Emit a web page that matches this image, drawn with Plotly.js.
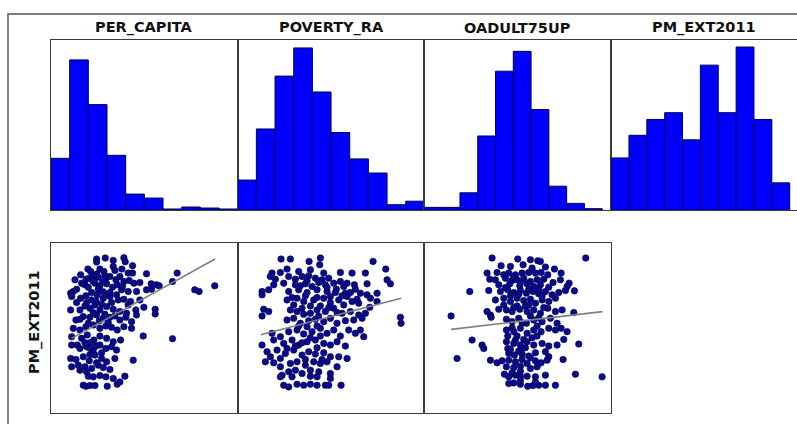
<!DOCTYPE html>
<html>
<head>
<meta charset="utf-8">
<script src="https://cdn.plot.ly/plotly-3.0.1.min.js"></script>
<style>html,body{margin:0;padding:0;background:#fff;}#chart{width:797px;height:424px;}</style>
</head>
<body>
<div id="chart"></div>
<script>
// ---------- DATA ----------
const variables = ["PER_CAPITA", "POVERTY_RA", "OADULT75UP", "PM_EXT2011"];

// Histogram bins (centres, width) and counts for each variable
const hist_per_capita_centers = [23.37, 27.71, 32.05, 36.39, 40.73, 45.07, 49.41, 53.75, 58.09, 62.43];
const hist_per_capita_counts  = [52, 151, 106, 55, 16, 12, 1, 3, 2, 1];
const hist_poverty_centers    = [11.3, 15.5, 19.7, 23.9, 28.1, 32.3, 36.5, 40.7, 44.9, 49.1];
const hist_poverty_counts     = [17, 46, 76, 92, 67, 44, 29, 21, 3, 5];
const hist_oadult_centers     = [11.45, 15.95, 20.45, 24.95, 29.45, 33.95, 38.45, 42.95, 47.45, 51.95];
const hist_oadult_counts      = [2, 2, 13, 56, 105, 120, 76, 18, 5, 1];
const hist_pm_centers         = [9.73, 13.59, 17.45, 21.31, 25.17, 29.03, 32.89, 36.75, 40.61, 44.47];
const hist_pm_counts          = [23, 33, 40, 43, 31, 64, 43, 72, 40, 12];
const hist_widths = [4.34, 4.2, 4.5, 3.86];

// Scatter: PER_CAPITA vs PM_EXT2011
const sc1_x = [29.0,31.6,34.0,37.2,37.6,29.0,39.8,26.4,27.2,30.0,31.2,34.0,34.5,36.6,38.5,39.8,24.2,44.0,53.2,25.8,26.8,28.0,29.5,31.8,33.0,34.8,36.0,37.2,38.8,40.2,42.0,45.4,47.0,51.8,45.5,47.8,22.0,21.2,23.0,25.5,26.5,28.5,30.0,32.0,33.8,35.2,36.5,38.5,41.0,44.0,58.5,59.8,64.5,21.5,24.2,25.8,27.5,29.2,31.0,33.0,35.0,37.2,39.2,42.0,21.2,24.0,25.5,27.0,28.5,30.0,32.0,34.0,36.0,38.0,40.8,43.2,46.6,46.6,38.5,22.8,25.0,27.0,29.0,31.0,33.0,34.5,36.0,37.8,39.5,41.0,22.0,24.0,25.8,28.0,30.0,31.8,33.5,35.2,37.2,39.5,21.5,24.5,26.2,28.2,30.0,32.0,34.0,36.2,43.0,51.8,23.2,21.5,24.0,26.0,28.0,30.0,31.8,33.5,35.0,27.0,21.2,22.8,25.0,26.8,28.5,30.5,32.0,34.5,40.0,21.5,23.5,25.5,27.5,29.5,31.0,33.0,24.0,26.0,26.5,28.0,30.0,31.8,34.0,37.5,36.0,25.0,25.8,27.0,28.5,32.2,35.2,27.5,29.5,31.0,32.5,28.8,30.5,26.0,33.5,29.0,31.5,27.8,30.8,28.0,31.5,26.5,29.8,32.5,25.5,28.8,30.5,27.0,29.0,26.8,24.0,23.0,35.5,36.8,24.5,22.5,33.0];
const sc1_y = [46.0,46.3,45.6,46.4,45.2,45.1,44.0,43.0,42.3,43.0,42.3,43.8,42.6,43.0,41.8,41.8,41.3,41.6,41.8,40.0,40.3,40.8,40.6,40.3,40.8,39.8,40.8,39.3,39.6,38.8,39.0,38.6,38.3,39.3,37.0,38.0,36.3,35.8,37.0,38.3,37.6,38.8,38.0,38.6,37.6,38.3,36.8,36.3,36.3,36.8,36.8,36.3,38.0,34.8,34.3,35.0,33.8,35.3,34.3,34.8,35.3,34.0,33.3,33.8,30.8,30.8,32.0,31.3,32.3,30.8,31.8,31.0,30.3,29.8,30.8,31.6,31.0,29.6,32.3,27.8,28.8,28.6,29.3,28.3,28.6,29.0,27.8,28.6,27.3,29.3,25.3,24.8,25.8,26.3,25.3,26.0,25.6,24.8,25.8,25.3,22.8,22.3,23.3,21.8,23.0,22.3,21.3,21.8,23.0,22.2,20.3,20.3,19.3,19.8,18.8,20.3,19.3,19.8,18.8,21.0,16.3,16.0,16.8,15.6,17.3,16.3,15.3,16.3,15.8,13.8,14.3,13.8,13.3,14.3,13.6,13.0,12.8,12.3,11.0,10.8,11.2,10.8,10.3,11.0,9.3,8.3,8.0,8.2,8.2,8.0,8.6,36.0,37.0,36.2,35.5,33.5,32.5,33.0,33.0,41.5,41.0,39.5,39.2,30.0,29.5,26.8,27.5,27.0,21.0,20.0,18.0,17.5,15.0,19.5,28.0,33.0,33.8,37.8,38.8,39.8,36.0];

// Scatter: POVERTY_RA vs PM_EXT2011
const sc2_x = [15.2,18.0,23.6,27.0,26.8,42.8,46.6,17.0,12.5,15.0,20.5,24.0,28.0,33.0,36.5,40.5,47.0,48.0,12.0,13.5,17.5,19.5,21.5,23.5,25.5,27.5,29.5,31.0,33.0,35.0,37.2,41.0,44.0,13.0,16.0,19.5,22.5,24.5,28.5,34.0,9.5,9.5,11.5,17.5,20.5,23.0,26.0,29.0,31.8,34.5,37.5,39.0,41.0,35.0,30.0,17.0,20.0,22.0,25.0,28.0,30.0,32.5,34.0,36.5,38.5,42.0,44.0,19.0,24.0,10.0,11.5,9.5,18.0,20.0,21.5,24.0,26.0,28.5,31.0,33.5,36.0,38.5,40.5,41.8,51.0,51.2,17.0,19.0,21.0,23.5,25.5,28.0,30.0,32.0,34.5,37.0,39.5,23.0,27.0,12.5,15.0,17.5,20.0,22.0,24.5,27.0,29.0,31.0,33.0,35.5,37.5,39.0,40.0,9.5,13.0,16.0,18.5,20.5,23.0,25.5,28.0,30.0,32.0,34.5,17.0,11.0,14.0,16.5,19.0,21.5,23.5,25.5,28.0,30.0,32.5,35.0,12.0,15.0,10.5,13.0,15.0,18.0,20.0,22.5,25.0,27.0,29.0,32.0,15.5,17.5,19.5,24.0,26.5,30.0,15.0,18.5,21.5,24.0,26.0,30.0,16.0,17.5,20.0,22.0,24.0,26.0,28.5,29.5,33.2,21.0,23.0,26.5,29.0,31.5,26.0,22.5,27.0,32.0,29.5,22.0,26.5,20.5,24.0,26.0,21.5,26.0,22.5,19.5,27.5,36.0,38.0,33.5,18.5];
const sc2_y = [46.0,46.0,45.3,46.3,44.3,45.3,43.0,43.0,41.8,42.0,42.3,42.8,41.8,42.0,41.8,41.8,39.8,38.6,40.8,40.0,40.8,40.0,40.8,41.0,40.3,39.8,40.3,38.8,39.3,38.8,38.3,38.6,35.8,38.3,38.8,38.3,38.6,37.8,38.3,37.8,36.3,35.3,36.8,36.3,36.8,36.0,36.8,36.3,37.0,35.8,37.0,35.8,35.3,34.8,34.8,33.8,34.3,33.3,33.8,34.3,33.0,33.8,32.3,33.3,32.8,34.3,33.3,32.3,32.0,31.0,30.3,29.0,30.8,30.3,31.3,29.8,30.8,30.3,31.3,29.8,30.3,29.3,29.8,31.6,28.6,26.8,27.8,28.3,26.8,27.6,28.0,27.3,28.3,26.8,27.6,27.8,28.3,25.8,25.3,23.8,22.8,24.3,24.8,23.6,24.3,23.0,23.8,24.8,23.0,24.8,23.8,24.8,22.8,20.3,21.8,20.8,21.8,20.3,21.3,21.8,20.8,20.3,21.3,20.0,19.3,18.3,18.8,17.8,18.8,17.3,18.3,17.6,18.0,16.8,16.8,16.3,16.8,16.3,15.3,15.0,13.8,14.8,15.3,14.3,15.3,14.8,15.3,13.8,11.3,12.3,12.8,12.8,12.3,11.8,10.8,10.8,11.8,11.0,10.8,10.3,8.3,7.8,8.6,8.3,8.6,8.3,8.3,8.3,8.3,38.0,39.5,39.0,37.5,36.0,34.5,35.0,32.0,30.0,31.5,29.5,29.0,26.0,22.5,26.0,21.0,19.5,16.0,20.0,16.0,36.0,34.0,35.0,34.5];

// Scatter: OADULT75UP vs PM_EXT2011
const sc3_x = [21.5,29.2,33.0,35.2,36.0,49.6,24.2,27.0,30.8,33.5,37.5,40.2,20.0,23.0,25.0,26.5,28.5,30.5,32.5,34.5,36.2,38.2,42.2,20.8,22.5,25.5,27.5,29.0,31.0,33.0,35.0,37.0,39.8,42.0,44.6,44.0,23.5,26.8,29.8,32.0,34.0,36.0,38.5,14.8,20.5,24.0,26.2,28.0,30.0,31.8,33.8,35.5,37.5,39.5,41.5,43.5,46.2,22.5,25.0,27.0,29.0,31.0,33.0,34.5,36.5,38.5,40.5,25.0,29.0,32.5,20.0,21.0,23.5,25.8,27.5,29.8,32.0,34.0,36.0,38.2,40.5,42.5,46.0,9.2,21.2,25.8,27.5,29.5,31.8,34.0,36.5,39.0,41.0,35.0,25.8,28.0,30.0,32.0,34.0,36.2,38.5,40.5,42.2,44.0,15.5,26.2,29.0,35.0,18.5,19.0,25.8,28.0,30.0,32.0,34.0,36.5,38.5,41.0,43.0,47.5,26.2,30.0,26.5,28.2,30.5,32.5,34.5,37.5,38.5,21.0,23.0,24.5,11.0,42.8,26.5,28.5,30.5,32.0,34.5,36.2,38.0,25.8,28.0,30.0,33.0,35.0,25.2,26.5,28.5,30.0,32.0,34.5,37.5,46.5,54.5,26.5,28.0,30.0,32.2,33.8,35.5,37.5,40.5,30.0,34.5,28.0,30.0,32.5,29.5,27.0,31.5,28.0,33.0,30.5,27.5,31.0,28.5,33.5,29.5,27.0,31.5,30.0,27.5,33.0,35.5,36.5,25.5,37.0,35.5];
const sc3_y = [46.3,46.0,45.8,45.5,45.3,46.3,44.0,43.8,44.3,43.3,43.6,43.0,41.8,42.0,41.3,41.8,41.3,41.8,42.0,41.8,42.0,41.3,41.8,40.0,39.8,40.3,39.6,39.8,40.3,39.3,39.8,40.0,39.0,39.8,38.8,37.8,38.3,38.6,38.0,38.6,37.8,38.3,37.6,36.3,36.6,36.3,36.8,36.0,36.6,35.8,36.3,35.6,36.3,35.3,36.0,36.6,36.5,33.8,34.3,33.3,34.3,33.6,34.0,32.8,33.8,33.3,34.3,32.3,32.0,32.3,30.3,29.3,31.0,30.8,30.3,31.0,30.3,30.8,29.8,31.3,30.3,30.8,30.0,29.0,28.6,28.0,27.3,28.3,26.8,27.8,27.3,28.3,26.8,26.0,24.8,24.3,25.3,23.8,24.8,24.3,25.3,24.8,25.3,24.3,21.8,23.0,23.0,23.0,20.3,19.3,21.3,20.8,20.3,21.3,20.3,20.8,20.0,20.3,22.0,20.6,19.3,18.8,17.8,17.3,17.6,17.0,18.0,18.3,16.8,15.8,15.0,15.6,16.3,16.0,15.8,15.3,16.0,14.8,15.6,15.0,15.8,13.8,13.6,14.0,13.3,13.8,11.6,10.8,11.3,11.0,11.0,10.8,11.3,11.6,10.8,8.8,9.0,8.6,8.0,8.2,8.3,8.3,8.3,9.8,9.3,40.8,39.0,37.0,35.5,35.0,32.0,31.5,29.0,27.0,25.5,22.0,21.8,22.5,18.5,19.0,19.5,12.5,12.0,16.5,37.0,35.0,37.5,31.5,28.5];

// Regression lines (end points)
const fit1_x = [21.5, 64.6], fit1_y = [22.3, 46.0];
const fit2_x = [9.2, 51.2],  fit2_y = [23.4, 34.3];
const fit3_x = [9.2, 54.6],  fit3_y = [25.0, 30.3];

// ---------- CHART ----------
const W = 797, H = 424;
const px = v => v / W;
const py = v => 1 - v / H;
const colL = [51, 237.7, 424.4, 611.1];
const colW = 186.7;

const barStyle = {color: '#0000ff', line: {color: '#000050', width: 1}};
const histX = [hist_per_capita_centers, hist_poverty_centers, hist_oadult_centers, hist_pm_centers];
const histY = [hist_per_capita_counts, hist_poverty_counts, hist_oadult_counts, hist_pm_counts];
const traces = [];
for (let i = 0; i < 4; i++) {
  traces.push({type: 'bar', x: histX[i], y: histY[i], width: hist_widths[i],
    marker: barStyle, xaxis: 'x' + (i === 0 ? '' : i + 1), yaxis: 'y' + (i === 0 ? '' : i + 1),
    hoverinfo: 'skip', showlegend: false});
}
const scX = [sc1_x, sc2_x, sc3_x], scY = [sc1_y, sc2_y, sc3_y];
const fX = [fit1_x, fit2_x, fit3_x], fY = [fit1_y, fit2_y, fit3_y];
for (let i = 0; i < 3; i++) {
  const ax = i + 5;
  traces.push({type: 'scatter', mode: 'markers', x: scX[i], y: scY[i],
    marker: {size: 6.5, color: '#0a0a8c', line: {color: '#00004a', width: 0.6}},
    xaxis: 'x' + ax, yaxis: 'y' + ax, showlegend: false, hoverinfo: 'skip'});
  traces.push({type: 'scatter', mode: 'lines', x: fX[i], y: fY[i],
    line: {color: '#7f7f7f', width: 1.6}, xaxis: 'x' + ax, yaxis: 'y' + ax,
    showlegend: false, hoverinfo: 'skip'});
}

const axBase = {showgrid: false, zeroline: false, showticklabels: false, ticks: '',
  showline: true, mirror: true, linecolor: '#3a3a3a', linewidth: 1, fixedrange: true};
const layout = {width: W, height: H, margin: {l: 0, r: 0, t: 0, b: 0},
  paper_bgcolor: '#ffffff', plot_bgcolor: '#ffffff', bargap: 0, showlegend: false,
  annotations: [], shapes: []};

const histXRanges = [[21.2, 64.6], [9.2, 51.2], [9.2, 56.45], [7.8, 47.98]];
const histYRanges = [[0, 171], [0, 96.5], [0, 128.6], [0, 75.1]];
const labelFont = {family: 'DejaVu Sans', size: 14.5, color: '#111'};
for (let i = 0; i < 4; i++) {
  const s = i === 0 ? '' : String(i + 1);
  const x1 = Math.min(1, px(colL[i] + colW));
  layout['xaxis' + s] = Object.assign({}, axBase, {domain: [px(colL[i]), x1], range: histXRanges[i], anchor: 'y' + s});
  layout['yaxis' + s] = Object.assign({}, axBase, {domain: [py(210), py(40)], range: histYRanges[i], anchor: 'x' + s});
  layout.annotations.push({text: '<b>' + variables[i] + '</b>', xref: 'paper', yref: 'paper',
    x: px(colL[i] + colW / 2), y: py(28), xanchor: 'center', yanchor: 'middle', showarrow: false,
    font: labelFont});
}
const scXRanges = [[15.3, 71.4], [2.2, 58.2], [1.2, 57.2]];
for (let i = 0; i < 3; i++) {
  const s = String(i + 5);
  layout['xaxis' + s] = Object.assign({}, axBase, {domain: [px(colL[i]), px(colL[i] + colW)], range: scXRanges[i], anchor: 'y' + s});
  layout['yaxis' + s] = Object.assign({}, axBase, {domain: [py(413), py(243)], range: [0, 50.8], anchor: 'x' + s});
}
layout.annotations.push({text: '<b>' + variables[3] + '</b>', xref: 'paper', yref: 'paper',
  x: px(34), y: py(322), textangle: -90, xanchor: 'center', yanchor: 'middle', showarrow: false,
  font: labelFont});
layout.shapes.push({type: 'rect', xref: 'paper', yref: 'paper', x0: px(8), x1: 1.02, y0: -0.05, y1: py(14),
  line: {color: '#555', width: 1.5}, fillcolor: 'rgba(0,0,0,0)', layer: 'below'});

Plotly.newPlot('chart', traces, layout, {staticPlot: true, displayModeBar: false});
</script>
</body>
</html>
